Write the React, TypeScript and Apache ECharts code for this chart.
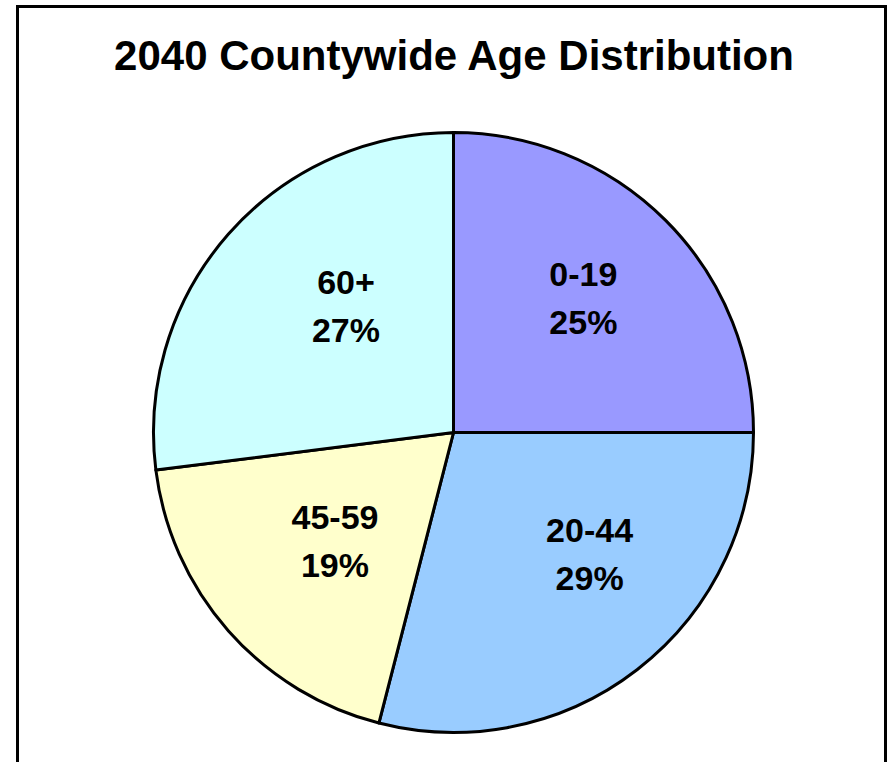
import React, { useEffect, useRef } from "react";
import * as echarts from "echarts";

const titleText = "2040 Countywide Age Distribution";
const categories = ["0-19", "20-44", "45-59", "60+"];
const values = [25, 29, 19, 27];
const sliceColors = ["#9999FF", "#99CCFF", "#FFFFCC", "#CCFFFF"];

const FONT = 'Arial, "Liberation Sans", Helvetica, sans-serif';
// label styling nudges (style only) to mimic the original placement
const labelPaddings = [
  [0, 28, 0, 0],
  [0, 0, 0, 18],
  [0, 6, 0, 0],
  [0, 0, 0, 16],
];
const labelOffsets = [
  [0, 0],
  [0, -10],
  [0, 0],
  [0, 0],
];

export default function App() {
  const ref = useRef<HTMLDivElement>(null);

  useEffect(() => {
    if (!ref.current) return;
    const chart = echarts.init(ref.current, null, { renderer: "svg" });
    const data = categories.map((name, i) => ({
      name,
      value: values[i],
      itemStyle: { color: sliceColors[i] },
    }));
    const labelData = categories.map((name, i) => ({
      name,
      value: values[i],
      label: { padding: labelPaddings[i], offset: labelOffsets[i] },
    }));

    chart.setOption({
      animation: false,
      backgroundColor: "#ffffff",
      graphic: [
        {
          type: "rect",
          silent: true,
          shape: { x: 17.5, y: 6.5, width: 868, height: 800 },
          style: { fill: "none", stroke: "#000000", lineWidth: 3 },
          z: 10,
        },
        {
          type: "text",
          x: 454,
          y: 55,
          style: {
            text: titleText,
            fontFamily: FONT,
            fontWeight: "bold",
            fontSize: 42,
            fill: "#000000",
            textAlign: "center",
            textVerticalAlign: "middle",
          },
        },
      ],
      series: [
        {
          type: "pie",
          center: [453.5, 432.5],
          radius: [0, 300],
          startAngle: 90,
          clockwise: true,
          silent: true,
          label: { show: false },
          labelLine: { show: false },
          itemStyle: { borderColor: "#000000", borderWidth: 3 },
          data,
        },
        {
          type: "pie",
          center: [471.5, 423.5],
          radius: [50, 300],
          startAngle: 90,
          clockwise: true,
          silent: true,
          itemStyle: { color: "rgba(0,0,0,0)", borderWidth: 0 },
          labelLine: { show: false },
          label: {
            show: true,
            position: "inside",
            fontFamily: FONT,
            fontWeight: "bold",
            fontSize: 34,
            lineHeight: 48,
            color: "#000000",
            align: "center",
            formatter: (p: any) => `${p.name}\n${Math.round(p.percent)}%`,
          },
          data: labelData,
        },
      ],
    });
    return () => chart.dispose();
  }, []);

  return (
    <div
      ref={ref}
      style={{ position: "absolute", left: 0, top: 0, width: 888, height: 762 }}
    />
  );
}
